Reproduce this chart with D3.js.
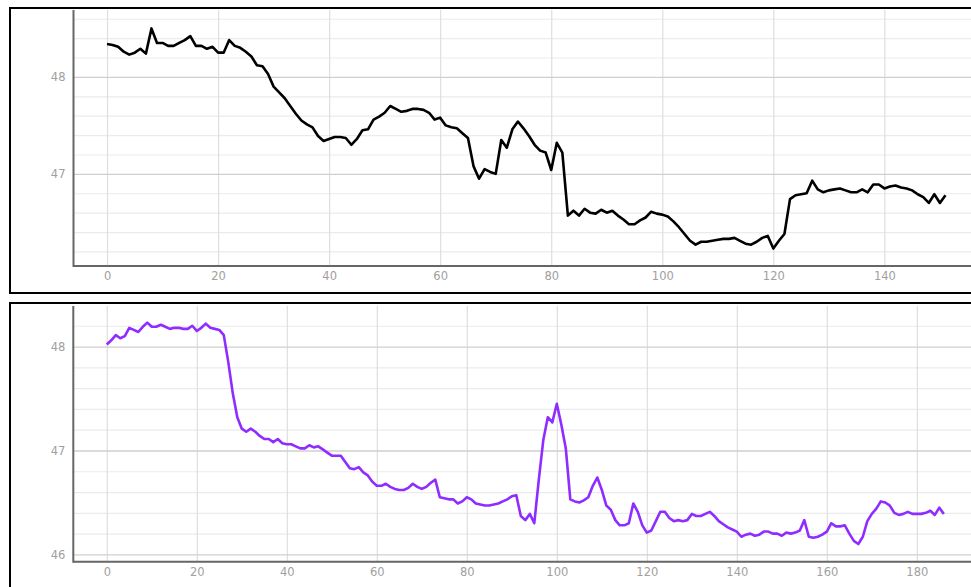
<!DOCTYPE html>
<html>
<head>
<meta charset="utf-8">
<script src="https://cdn.jsdelivr.net/npm/d3@7"></script>
<style>
  body { margin: 0; background: white; }
  svg { display: block; }
</style>
</head>
<body>
<svg id="chart" width="971" height="587"></svg>
<script>
"use strict";

//Values of the black series (top panel), one value per index 0..151
var topValues = [
  48.34,48.33,48.31,48.26,48.23,48.25,48.29,48.24,48.50,48.35,
  48.35,48.32,48.32,48.35,48.38,48.42,48.32,48.32,48.29,48.31,
  48.25,48.25,48.38,48.32,48.30,48.26,48.21,48.12,48.11,48.03,
  47.90,47.84,47.78,47.70,47.62,47.55,47.51,47.48,47.39,47.34,
  47.36,47.38,47.38,47.37,47.30,47.36,47.45,47.46,47.56,47.59,
  47.63,47.70,47.67,47.64,47.65,47.67,47.67,47.66,47.63,47.56,
  47.58,47.50,47.48,47.47,47.42,47.37,47.08,46.95,47.05,47.02,
  47.00,47.35,47.27,47.46,47.54,47.47,47.39,47.30,47.24,47.22,
  47.04,47.32,47.22,46.57,46.62,46.57,46.64,46.60,46.59,46.63,
  46.60,46.62,46.57,46.53,46.48,46.48,46.52,46.55,46.61,46.59,
  46.58,46.56,46.51,46.45,46.38,46.31,46.27,46.30,46.30,46.31,
  46.32,46.33,46.33,46.34,46.31,46.28,46.27,46.30,46.34,46.36,
  46.23,46.31,46.38,46.74,46.78,46.79,46.80,46.93,46.84,46.81,
  46.83,46.84,46.85,46.83,46.81,46.81,46.84,46.81,46.89,46.89,
  46.85,46.87,46.88,46.86,46.85,46.83,46.79,46.76,46.70,46.79,
  46.70,46.78
];

//Values of the purple series (bottom panel), one value per index 0..186
var bottomValues = [
  48.02,48.06,48.11,48.08,48.10,48.18,48.16,48.14,48.19,48.23,
  48.19,48.19,48.21,48.19,48.17,48.18,48.18,48.17,48.17,48.20,
  48.15,48.18,48.22,48.18,48.17,48.16,48.11,47.85,47.55,47.32,
  47.21,47.18,47.21,47.18,47.14,47.11,47.11,47.08,47.11,47.07,
  47.06,47.06,47.04,47.02,47.02,47.05,47.03,47.04,47.01,46.98,
  46.95,46.95,46.95,46.89,46.83,46.82,46.84,46.79,46.76,46.70,
  46.66,46.66,46.68,46.65,46.63,46.62,46.62,46.64,46.68,46.65,
  46.63,46.65,46.69,46.72,46.55,46.54,46.53,46.53,46.49,46.51,
  46.55,46.53,46.49,46.48,46.47,46.47,46.48,46.49,46.51,46.53,
  46.56,46.57,46.37,46.33,46.39,46.30,46.72,47.10,47.32,47.27,
  47.45,47.25,47.02,46.53,46.51,46.50,46.52,46.55,46.66,46.74,
  46.62,46.47,46.43,46.33,46.28,46.28,46.30,46.49,46.41,46.28,
  46.21,46.23,46.32,46.41,46.41,46.35,46.32,46.33,46.32,46.33,
  46.39,46.37,46.37,46.39,46.41,46.37,46.32,46.29,46.26,46.24,
  46.22,46.17,46.19,46.20,46.18,46.19,46.22,46.22,46.20,46.20,
  46.18,46.21,46.20,46.21,46.23,46.33,46.17,46.16,46.17,46.19,
  46.22,46.30,46.27,46.27,46.28,46.20,46.13,46.10,46.17,46.32,
  46.39,46.44,46.51,46.50,46.47,46.40,46.38,46.39,46.41,46.39,
  46.39,46.39,46.40,46.42,46.38,46.45,46.39
];

//Tick values of both panels
var topXTicks = [0, 20, 40, 60, 80, 100, 120, 140];
var topYTicks = [47, 48];
var bottomXTicks = [0, 20, 40, 60, 80, 100, 120, 140, 160, 180];
var bottomYTicks = [46, 47, 48];

var svg = d3.select("#chart");

//Top panel
buildPanel({
  frame: {x: 10, y: 8, w: 975, h: 285},
  left: 73.5, right: 979, top: 10, bottom: 266,
  xDomain: [-6.04, 157.04], yDomain: [46.05, 48.69],
  values: topValues, color: "#000000",
  xTicks: topXTicks, yTicks: topYTicks
});

//Bottom panel
buildPanel({
  frame: {x: 10, y: 303, w: 975, h: 300},
  left: 73.3, right: 977.3, top: 306, bottom: 561.7,
  xDomain: [-7.44, 193.44], yDomain: [45.93, 48.39],
  values: bottomValues, color: "#8f2cff",
  xTicks: bottomXTicks, yTicks: bottomYTicks
});

//Draw one framed panel with grid, axes and the line
function buildPanel(p) {

  var x = d3.scaleLinear().domain(p.xDomain).range([p.left, p.right]);
  var y = d3.scaleLinear().domain(p.yDomain).range([p.bottom, p.top]);

  var g = svg.append("g");

  //outer black frame
  g.append("rect")
    .attr("x", p.frame.x)
    .attr("y", p.frame.y)
    .attr("width", p.frame.w)
    .attr("height", p.frame.h)
    .attr("fill", "white")
    .attr("stroke", "#000")
    .attr("stroke-width", 2);

  //minor horizontal grid every 0.2
  var minor = d3.range(Math.ceil(p.yDomain[0] * 5), Math.floor(p.yDomain[1] * 5) + 1)
    .map(function(k) { return k / 5; })
    .filter(function(v) { return Math.abs(v - Math.round(v)) > 1e-6; });

  g.append("g")
    .attr("transform", "translate(" + p.left + ",0)")
    .call(d3.axisLeft(y).tickValues(minor).tickSize(-(p.right - p.left)).tickFormat(""))
    .call(function(s) {
      s.select(".domain").remove();
      s.selectAll("line").attr("stroke", "#ebebeb").attr("stroke-width", 1.2);
    });

  //vertical grid on x ticks
  g.append("g")
    .attr("transform", "translate(0," + p.bottom + ")")
    .call(d3.axisBottom(x).tickValues(p.xTicks).tickSize(-(p.bottom - p.top)).tickFormat(""))
    .call(function(s) {
      s.select(".domain").remove();
      s.selectAll("line").attr("stroke", "#dedede").attr("stroke-width", 1.2);
    });

  //major horizontal grid on y ticks
  g.append("g")
    .attr("transform", "translate(" + p.left + ",0)")
    .call(d3.axisLeft(y).tickValues(p.yTicks).tickSize(-(p.right - p.left)).tickFormat(""))
    .call(function(s) {
      s.select(".domain").remove();
      s.selectAll("line").attr("stroke", "#cfcfcf").attr("stroke-width", 1.3);
    });

  //the data line
  var line = d3.line()
    .x(function(d, i) { return x(i); })
    .y(function(d) { return y(d); });

  g.append("path")
    .datum(p.values)
    .attr("fill", "none")
    .attr("stroke", p.color)
    .attr("stroke-width", 2.6)
    .attr("stroke-linejoin", "round")
    .attr("d", line);

  //x axis: labels only, then a grey axis line
  g.append("g")
    .attr("transform", "translate(0," + p.bottom + ")")
    .call(d3.axisBottom(x).tickValues(p.xTicks).tickSize(0).tickPadding(6).tickFormat(d3.format("d")))
    .call(function(s) {
      s.select(".domain").remove();
      s.selectAll("text")
        .attr("fill", "#a0a0a0")
        .attr("font-family", "DejaVu Sans, sans-serif")
        .attr("font-size", "11.5px");
    });

  g.append("g")
    .attr("transform", "translate(" + p.left + ",0)")
    .call(d3.axisLeft(y).tickValues(p.yTicks).tickSize(0).tickPadding(8).tickFormat(d3.format("d")))
    .call(function(s) {
      s.select(".domain").remove();
      s.selectAll("text")
        .attr("fill", "#a0a0a0")
        .attr("font-family", "DejaVu Sans, sans-serif")
        .attr("font-size", "11.5px");
    });

  g.append("line")
    .attr("x1", p.left).attr("x2", p.right)
    .attr("y1", p.bottom).attr("y2", p.bottom)
    .attr("stroke", "#666").attr("stroke-width", 2);

  g.append("line")
    .attr("x1", p.left).attr("x2", p.left)
    .attr("y1", p.top).attr("y2", p.bottom + 1)
    .attr("stroke", "#666").attr("stroke-width", 2);
}
</script>
</body>
</html>
